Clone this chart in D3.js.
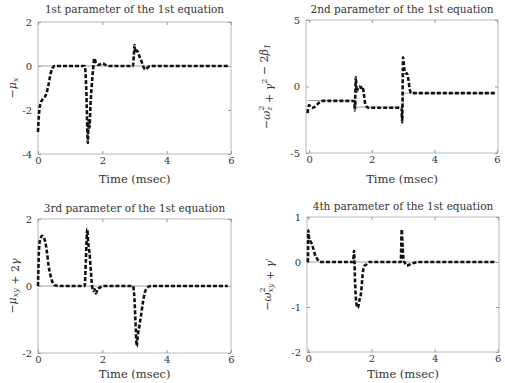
<!DOCTYPE html>
<html>
<head>
<meta charset="utf-8">
<script src="https://cdn.jsdelivr.net/npm/d3@7"></script>
<style>
	body { margin: 0; background: #fff; }
	text { font-family: "DejaVu Serif", "Liberation Serif", serif; fill: #333; }
</style>
</head>
<body>
<svg id="figura"></svg>
<script>
const WIDTH = 505,
	HEIGHT = 383;

// datos
const titulos = [
	"1st parameter of the 1st equation",
	"2nd parameter of the 1st equation",
	"3rd parameter of the 1st equation",
	"4th parameter of the 1st equation"
];

const ticksX = [0, 2, 4, 6];
const ticksY1 = [-4, -2, 0, 2];
const ticksY2 = [-5, 0, 5];
const ticksY3 = [-2, 0, 2];
const ticksY4 = [-2, -1, 0, 1];

const t1 = [0, 0.03, 0.08, 0.15, 0.25, 0.32, 0.4, 0.45, 0.52, 0.7, 1.0, 1.3, 1.45, 1.5, 1.55, 1.57, 1.6, 1.63, 1.67, 1.71, 1.75, 1.8, 1.88, 2.0, 2.1, 2.2, 2.5, 2.9, 2.95, 2.98, 3.0, 3.03, 3.08, 3.15, 3.22, 3.3, 3.35, 3.45, 3.6, 4, 5, 5.9];
const v1 = [-3, -2.2, -1.7, -1.5, -1.3, -0.9, -0.3, -0.1, 0, 0, 0, 0, 0, -1.0, -3.5, -2.5, -2.8, -1.8, -0.9, -0.2, 0.35, 0.15, 0.05, 0.12, 0.05, 0, 0, 0, 0, 0.5, 0.95, 0.6, 0.7, 0.45, 0.2, -0.1, -0.15, -0.02, 0, 0, 0, 0];

const t2 = [-0.05, -0.02, 0, 0.05, 0.12, 0.2, 0.3, 0.38, 0.5, 1.0, 1.44, 1.46, 1.49, 1.52, 1.56, 1.6, 1.65, 1.7, 1.75, 1.8, 1.9, 2.2, 2.6, 2.95, 2.97, 3.0, 3.03, 3.07, 3.12, 3.17, 3.22, 3.27, 3.4, 4, 5, 5.93];
const v2 = [-2.0, -1.5, -1.4, -1.55, -1.6, -1.5, -1.25, -1.1, -1.08, -1.08, -1.1, -1.8, 0.7, -0.4, -0.1, 0, -0.1, 0, -0.6, -1.4, -1.6, -1.6, -1.6, -1.6, -2.7, 2.2, 1.5, 1.0, 1.0, 0.5, -0.3, -0.5, -0.5, -0.5, -0.5, -0.5];

const t3 = [0, 0.02, 0.05, 0.09, 0.13, 0.18, 0.23, 0.28, 0.33, 0.38, 0.45, 0.52, 0.7, 1.0, 1.3, 1.45, 1.49, 1.53, 1.56, 1.6, 1.64, 1.68, 1.72, 1.76, 1.8, 1.85, 1.92, 2.05, 2.5, 2.9, 2.95, 3.0, 3.04, 3.07, 3.1, 3.15, 3.2, 3.26, 3.32, 3.4, 3.5, 4, 5, 5.9];
const v3 = [0, 0.8, 1.3, 1.45, 1.5, 1.45, 1.3, 1.0, 0.6, 0.35, 0.12, 0.02, 0, 0, 0, 0, 0.8, 1.7, 1.3, 1.0, 0.5, 0, -0.15, -0.1, -0.22, -0.1, -0.05, 0, 0, 0, 0, -0.4, -1.3, -1.8, -1.5, -1.2, -0.9, -0.5, -0.2, -0.05, 0, 0, 0, 0];

const t4 = [-0.03, -0.01, 0.0, 0.03, 0.08, 0.15, 0.22, 0.3, 0.38, 0.5, 1.0, 1.42, 1.45, 1.48, 1.52, 1.57, 1.62, 1.67, 1.72, 1.76, 1.85, 1.93, 2.5, 2.93, 2.96, 2.99, 3.02, 3.06, 3.12, 3.2, 3.3, 3.5, 4, 5, 5.95];
const v4 = [0, 0.05, 0.7, 0.5, 0.45, 0.32, 0.15, 0.05, 0, 0, 0, 0, 0.25, -0.4, -0.9, -1.02, -0.85, -0.7, -0.3, -0.1, -0.05, 0, 0, 0, 0.72, 0.3, 0.05, -0.02, -0.08, -0.06, -0.03, 0, 0, 0, 0];

// valores de referencia (linea gris delgada)
const ref1T = [0, 5.9], ref1V = [0, 0];
const ref2T = [-0.05, 1.5, 1.5, 3.0, 3.0, 5.93], ref2V = [-1.05, -1.05, -1.55, -1.55, -0.5, -0.5];
const ref3T = [0, 5.9], ref3V = [0, 0];
const ref4T = [-0.03, 5.95], ref4V = [0, 0];

const svg = d3.select("#figura")
	.attr("width", WIDTH)
	.attr("height", HEIGHT);

const paneles = [
	{ caja: [38, 231, 22, 154], dx: [0, 6], dy: [-4, 2], ty: ticksY1, t: t1, v: v1, rt: ref1T, rv: ref1V,
		titulo: titulos[0], tituloY: 10, xlabY: 180, ylabX: 13, ylab: "p1" },
	{ caja: [306, 498, 20, 153], dx: [-0.1, 6.03], dy: [-5, 5], ty: ticksY2, t: t2, v: v2, rt: ref2T, rv: ref2V,
		titulo: titulos[1], tituloY: 10, xlabY: 180, ylabX: 267, ylab: "p2" },
	{ caja: [38, 231, 219, 353], dx: [0, 6], dy: [-2, 2], ty: ticksY3, t: t3, v: v3, rt: ref3T, rv: ref3V,
		titulo: titulos[2], tituloY: 209, xlabY: 375, ylabX: 13, ylab: "p3" },
	{ caja: [307, 499, 217, 352], dx: [-0.04, 6.04], dy: [-2, 1], ty: ticksY4, t: t4, v: v4, rt: ref4T, rv: ref4V,
		titulo: titulos[3], tituloY: 207, xlabY: 375, ylabX: 268, ylab: "p4" }
];

// etiquetas del eje y con subindices y superindices
const escribirEtiqueta = (texto, tipo) => {
	const partes = {
		p1: [["−", ""], ["μ", "i"], ["x", "sub"]],
		p2: [["−", ""], ["ω", "i"], ["2", "sup"], ["z", "subk"], [" + ", ""], ["γ", "i"], ["2", "sup"], [" − 2", ""], ["β", "i"], ["1", "sub"]],
		p3: [["−", ""], ["μ", "i"], ["xy", "sub"], [" + 2", ""], ["γ", "i"]],
		p4: [["−", ""], ["ω", "i"], ["2", "sup"], ["xy", "subk"], [" + ", ""], ["γ", "i"], ["′", ""]]
	}[tipo];
	partes.forEach(([s, k]) => {
		const ts = texto.append("tspan").text(s);
		if (k == "i") ts.attr("font-style", "italic");
		if (k == "sub") ts.attr("font-style", "italic").attr("font-size", 8).attr("dy", 3);
		if (k == "sup") ts.attr("font-size", 8).attr("dy", -5);
		if (k == "subk") ts.attr("font-style", "italic").attr("font-size", 8).attr("dx", -5).attr("dy", 8);
		// volver a la linea base
		if (k == "sub") texto.append("tspan").attr("dy", -3).text("");
		if (k == "subk") texto.append("tspan").attr("dy", -3).text("");
	});
};

paneles.forEach(p => {
	const [x0, x1, y0, y1] = p.caja;
	const escalaX = d3.scaleLinear().domain(p.dx).range([x0, x1]);
	const escalaY = d3.scaleLinear().domain(p.dy).range([y1, y0]);

	const g = svg.append("g");

	// caja
	g.append("rect")
		.attr("x", x0).attr("y", y0)
		.attr("width", x1 - x0).attr("height", y1 - y0)
		.attr("fill", "none")
		.attr("stroke", "#b8b8b8")
		.attr("stroke-width", 1);

	// ejes con ticks hacia adentro
	const ejeAbajo = g.append("g").attr("transform", `translate(0 ${y1})`)
		.call(d3.axisBottom(escalaX).tickValues(ticksX).tickSize(-3).tickPadding(3).tickFormat(d3.format("d")));
	const ejeArriba = g.append("g").attr("transform", `translate(0 ${y0})`)
		.call(d3.axisTop(escalaX).tickValues(ticksX).tickSize(-3).tickFormat(""));
	const ejeIzq = g.append("g").attr("transform", `translate(${x0} 0)`)
		.call(d3.axisLeft(escalaY).tickValues(p.ty).tickSize(-3).tickPadding(6).tickFormat(d3.format("d")));
	const ejeDer = g.append("g").attr("transform", `translate(${x1} 0)`)
		.call(d3.axisRight(escalaY).tickValues(p.ty).tickSize(-3).tickFormat(""));

	[ejeAbajo, ejeArriba, ejeIzq, ejeDer].forEach(e => {
		e.select(".domain").remove();
		e.selectAll(".tick line").attr("stroke", "#999");
		e.selectAll(".tick text")
			.attr("font-family", "DejaVu Serif")
			.attr("font-size", 10)
			.attr("fill", "#444");
	});
	ejeIzq.selectAll(".tick text").text(d => d < 0 ? "-" + Math.abs(d) : d);

	// linea de referencia
	const linea = d3.line().x(d => escalaX(d[0])).y(d => escalaY(d[1]));
	g.append("path")
		.attr("d", linea(p.rt.map((t, i) => [t, p.rv[i]])))
		.attr("fill", "none")
		.attr("stroke", "#a0a0a0")
		.attr("stroke-width", 1);

	// estimacion (linea negra segmentada)
	g.append("path")
		.attr("d", linea.curve(d3.curveMonotoneX)(p.t.map((t, i) => [t, p.v[i]])))
		.attr("fill", "none")
		.attr("stroke", "#111")
		.attr("stroke-width", 2.6)
		.attr("stroke-dasharray", "4,2");

	// titulo
	g.append("text")
		.attr("x", (x0 + x1) / 2)
		.attr("y", p.tituloY)
		.attr("text-anchor", "middle")
		.attr("dominant-baseline", "middle")
		.attr("font-size", 10.5)
		.text(p.titulo);

	// eje x
	g.append("text")
		.attr("x", (x0 + x1) / 2)
		.attr("y", p.xlabY)
		.attr("text-anchor", "middle")
		.attr("dominant-baseline", "middle")
		.attr("font-size", 11.5)
		.text("Time (msec)");

	// eje y
	const ylab = g.append("text")
		.attr("transform", `translate(${p.ylabX} ${(y0 + y1) / 2}) rotate(-90)`)
		.attr("text-anchor", "middle")
		.attr("dominant-baseline", "middle")
		.attr("font-size", 11);
	escribirEtiqueta(ylab, p.ylab);
});
</script>
</body>
</html>
